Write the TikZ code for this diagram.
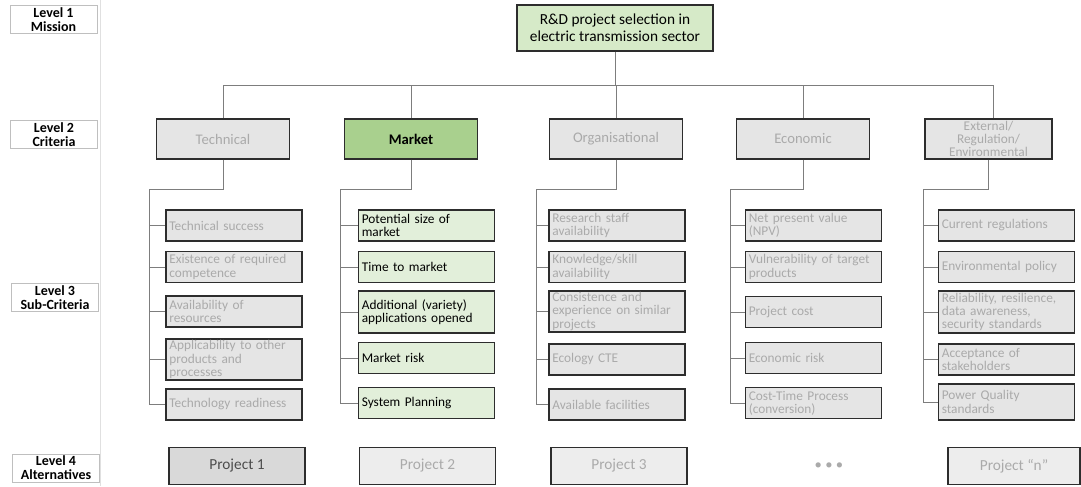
\documentclass[tikz,border=0pt]{standalone}
\usepackage{fontspec}
\setmainfont{Carlito}
\usetikzlibrary{positioning,calc}

\definecolor{boxline}{RGB}{45,45,45}
\definecolor{boxgray}{RGB}{229,229,229}
\definecolor{txtgray}{RGB}{170,170,170}
\definecolor{linkgray}{RGB}{125,125,125}
\definecolor{missiongreen}{RGB}{214,234,200}
\definecolor{critgreen}{RGB}{169,208,142}
\definecolor{subgreen}{RGB}{226,239,218}

\begin{document}
\begin{tikzpicture}[x=0.75pt,y=0.75pt,yscale=-1,xscale=1,
  link/.style={draw=linkgray,line width=0.7pt},
  levelbox/.style={draw=black!25,line width=0.5pt,minimum width=65pt,minimum height=21pt,
    inner sep=0.5pt,align=center,font=\fontsize{10.5}{10.5}\selectfont\bfseries},
  crit/.style={draw=boxline,line width=1.1pt,fill=boxgray,text=txtgray,minimum width=100pt,
    minimum height=30pt,inner sep=1pt,align=center,font=\fontsize{11}{11}\selectfont},
  sub/.style={draw=boxline,line width=1.1pt,fill=boxgray,text=txtgray,text width=97pt,
    inner xsep=2.5pt,inner ysep=1pt,align=left,minimum height=23pt,font=\fontsize{10}{10}\selectfont},
  subg/.style={sub,fill=subgreen,text=black},
  proj/.style={draw=boxline,line width=1.1pt,fill=boxgray!70,text=txtgray,minimum width=102pt,
    minimum height=28pt,font=\fontsize{11.5}{12}\selectfont}]
\useasboundingbox (0,0) rectangle (1081,486);

% level column
\draw [black!12,line width=0.6pt] (100,0) -- (100,486);
\node [levelbox] (lev1) at (53.5,19.5) {Level 1\\Mission};
\node [levelbox] (lev2) at (54,134.5) {Level 2\\Criteria};
\node [levelbox] (lev3) at (55,297.5) {Level 3\\Sub-Criteria};
\node [levelbox] (lev4) at (56,468) {Level 4\\Alternatives};

% mission
\node [draw=boxline,line width=1.1pt,fill=missiongreen,minimum width=147pt,minimum height=34.5pt,
  inner sep=1pt,align=center,font=\fontsize{11.5}{13}\selectfont] (mission) at (615,28)
  {R\&D project selection in\\electric transmission sector};

% criteria
\node [crit] (tec) at (223,139) {Technical};
\node [crit,fill=critgreen,text=black,font=\fontsize{11}{11}\selectfont\bfseries] (mkt) at (411,139) {Market};
\node [crit] (org) at (616,139) {Organisational};
\node [crit] (eco) at (803,139) {Economic};
\node [crit,minimum width=95pt,font=\fontsize{10}{9.6}\selectfont] (ext) at (988.5,139) {External/\\Regulation/\\Environmental};

\coordinate (busL) at (223,85);
\coordinate (busR) at (993,85);
\draw [link] (busL) -- (busR);
\draw [link] (mission.south) -- (mission.south|-busL);
\foreach \c in {tec,mkt,org,eco} \draw [link] (\c.north|-busL) -- (\c.north);
\draw [link] (busR) -- (busR|-ext.north);

% sub-criteria: technical
\node [sub] (tec1) at (234,225.5) {Technical success};
\node [sub] (tec2) at (234,267) {Existence of required\\competence};
\node [sub] (tec3) at (234,311.5) {Availability of\\resources};
\node [sub,minimum height=30.75pt] (tec4) at (234,359.5) {Applicability to other\\products and\\processes};
\node [sub] (tec5) at (234,404.5) {Technology readiness};

% sub-criteria: market
\node [subg] (mkt1) at (426.5,225.5) {Potential size of\\market};
\node [subg] (mkt2) at (426.5,267) {Time to market};
\node [subg,minimum height=31.5pt] (mkt3) at (426.5,312) {Additional (variety)\\applications opened};
\node [subg] (mkt4) at (426.5,358) {Market risk};
\node [subg] (mkt5) at (426.5,403) {System Planning};

% sub-criteria: organisational
\node [sub] (org1) at (617,225.5) {Research staff\\availability};
\node [sub] (org2) at (617,267) {Knowledge/skill\\availability};
\node [sub,minimum height=30.75pt] (org3) at (617,311.5) {Consistence and\\experience on similar\\projects};
\node [sub] (org4) at (617,359.5) {Ecology CTE};
\node [sub] (org5) at (617,404.5) {Available facilities};

% sub-criteria: economic
\node [sub] (eco1) at (813.5,225.5) {Net present value\\(NPV)};
\node [sub] (eco2) at (813.5,267) {Vulnerability of target\\products};
\node [sub] (eco3) at (813.5,312) {Project cost};
\node [sub] (eco4) at (813.5,358) {Economic risk};
\node [sub] (eco5) at (813.5,403) {Cost-Time Process\\(conversion)};

% sub-criteria: external
\node [sub] (ext1) at (1006.5,225.5) {Current regulations};
\node [sub] (ext2) at (1006.5,267) {Environmental policy};
\node [sub,minimum height=31.5pt] (ext3) at (1006.5,312) {Reliability, resilience,\\data awareness,\\security standards};
\node [sub] (ext4) at (1006.5,359.5) {Acceptance of\\stakeholders};
\node [sub,minimum height=27pt] (ext5) at (1006.5,402) {Power Quality\\standards};

% tree lines under each criterion
\coordinate (tec-bus) at (149,189);
\coordinate (mkt-bus) at (340,189);
\coordinate (org-bus) at (536,189);
\coordinate (eco-bus) at (730,189);
\coordinate (ext-bus) at (923,189);
\foreach \c in {tec,mkt,org,eco,ext} {
  \draw [link] (\c.south) |- (\c-bus) -- (\c-bus|-\c5.west);
  \foreach \i in {1,...,5} \draw [link] (\c-bus|-\c\i.west) -- (\c\i.west);
}

% alternatives
\node [proj,fill=black!15,text=black!70] (p1) at (237,466) {Project 1};
\node [proj] (p2) at (427.5,466) {Project 2};
\node [proj] (p3) at (619,466) {Project 3};
\node [text=txtgray,font=\fontsize{11}{11}\selectfont] (pdots) at (829,466) {\textbullet\ \textbullet\ \textbullet};
\node [proj,minimum width=99pt] (pn) at (1014,466) {Project ``n''};

\end{tikzpicture}
\end{document}
